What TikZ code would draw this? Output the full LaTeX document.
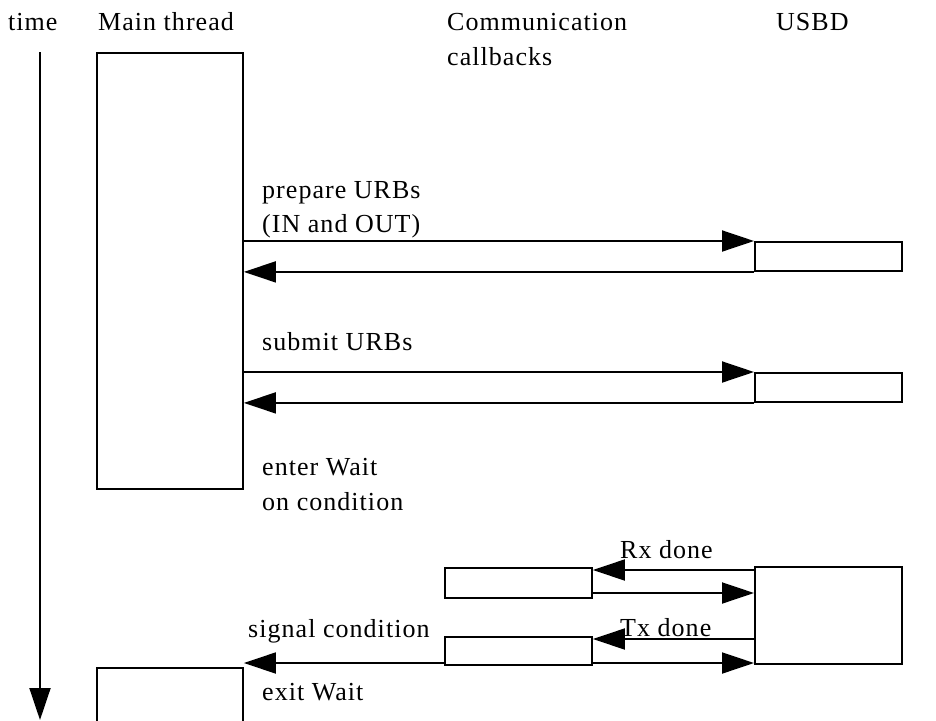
\documentclass[tikz,border=0pt]{standalone}
\usepackage{fontspec}
\setmainfont{Liberation Serif}[LetterSpace=4]
\usetikzlibrary{arrows.meta}
\tikzset{
  box/.style={draw, line width=1.9pt, inner sep=0pt, anchor=north west},
  lbl/.style={anchor=base west, inner sep=0pt, font=\fontsize{26}{28}\selectfont},
  arr/.style={line width=1.9pt, -{Triangle[length=32pt,width=21pt]}}
}
\begin{document}
\begin{tikzpicture}[x=1pt,y=-1pt]
  \useasboundingbox (0,0) rectangle (936,720);
  \clip (0,0) rectangle (936,720);

  % column headings
  \node[lbl] (ttime) at (8,30) {time};
  \node[lbl] (tmain) at (98,30) {Main thread};
  \node[lbl] (tcomm) at (447,30) {Communication};
  \node[lbl] (tcall) at (447,65) {callbacks};
  \node[lbl] (tusbd) at (776,30) {USBD};

  % time axis
  \coordinate (tstart) at (40,52);
  \coordinate (tend) at (40,720);
  \draw[arr] (tstart) -- (tend);

  % main thread activations
  \node[box, minimum width=146pt, minimum height=436pt] (main) at (96,52) {};
  \node[box, minimum width=146pt, minimum height=80pt] (mainb) at (96,667) {};

  % USBD activations
  \node[box, minimum width=147pt, minimum height=29pt] (usbda) at (754,241) {};
  \node[box, minimum width=147pt, minimum height=29pt] (usbdb) at (754,372) {};
  \node[box, minimum width=147pt, minimum height=97pt] (usbdc) at (754,566) {};

  % callback activations
  \node[box, minimum width=147pt, minimum height=30pt] (cba) at (444,567) {};
  \node[box, minimum width=147pt, minimum height=28pt] (cbb) at (444,636) {};

  % prepare URBs
  \node[lbl] (lprep) at (262,198) {prepare URBs};
  \node[lbl] (lprep2) at (262,232) {(IN and OUT)};
  \draw[arr] (main.east |- usbda.north west) -- (usbda.north west);
  \draw[arr] (usbda.south west) -- (main.east |- usbda.south west);

  % submit URBs
  \node[lbl] (lsub) at (262,350) {submit URBs};
  \draw[arr] (main.east |- usbdb.north west) -- (usbdb.north west);
  \draw[arr] (usbdb.south west) -- (main.east |- usbdb.south west);

  % wait
  \node[lbl] (lwait) at (262,475) {enter Wait};
  \node[lbl] (lwait2) at (262,510) {on condition};

  % Rx completion
  \coordinate (rxy) at (0,570);
  \coordinate (rxb) at (0,593);
  \node[lbl] (lrx) at (620,558) {Rx done};
  \draw[arr] (usbdc.west |- rxy) -- (cba.east |- rxy);
  \draw[arr] (cba.east |- rxb) -- (usbdc.west |- rxb);

  % Tx completion
  \coordinate (txy) at (0,639);
  \coordinate (txb) at (0,663);
  \node[lbl] (ltx) at (620,636) {Tx done};
  \draw[arr] (usbdc.west |- txy) -- (cbb.east |- txy);
  \draw[arr] (cbb.east |- txb) -- (usbdc.west |- txb);

  % signal back to main thread
  \node[lbl] (lsig) at (248,637) {signal condition};
  \draw[arr] (cbb.west |- txb) -- (main.east |- txb);
  \node[lbl] (lexit) at (262,700) {exit Wait};
\end{tikzpicture}
\end{document}
